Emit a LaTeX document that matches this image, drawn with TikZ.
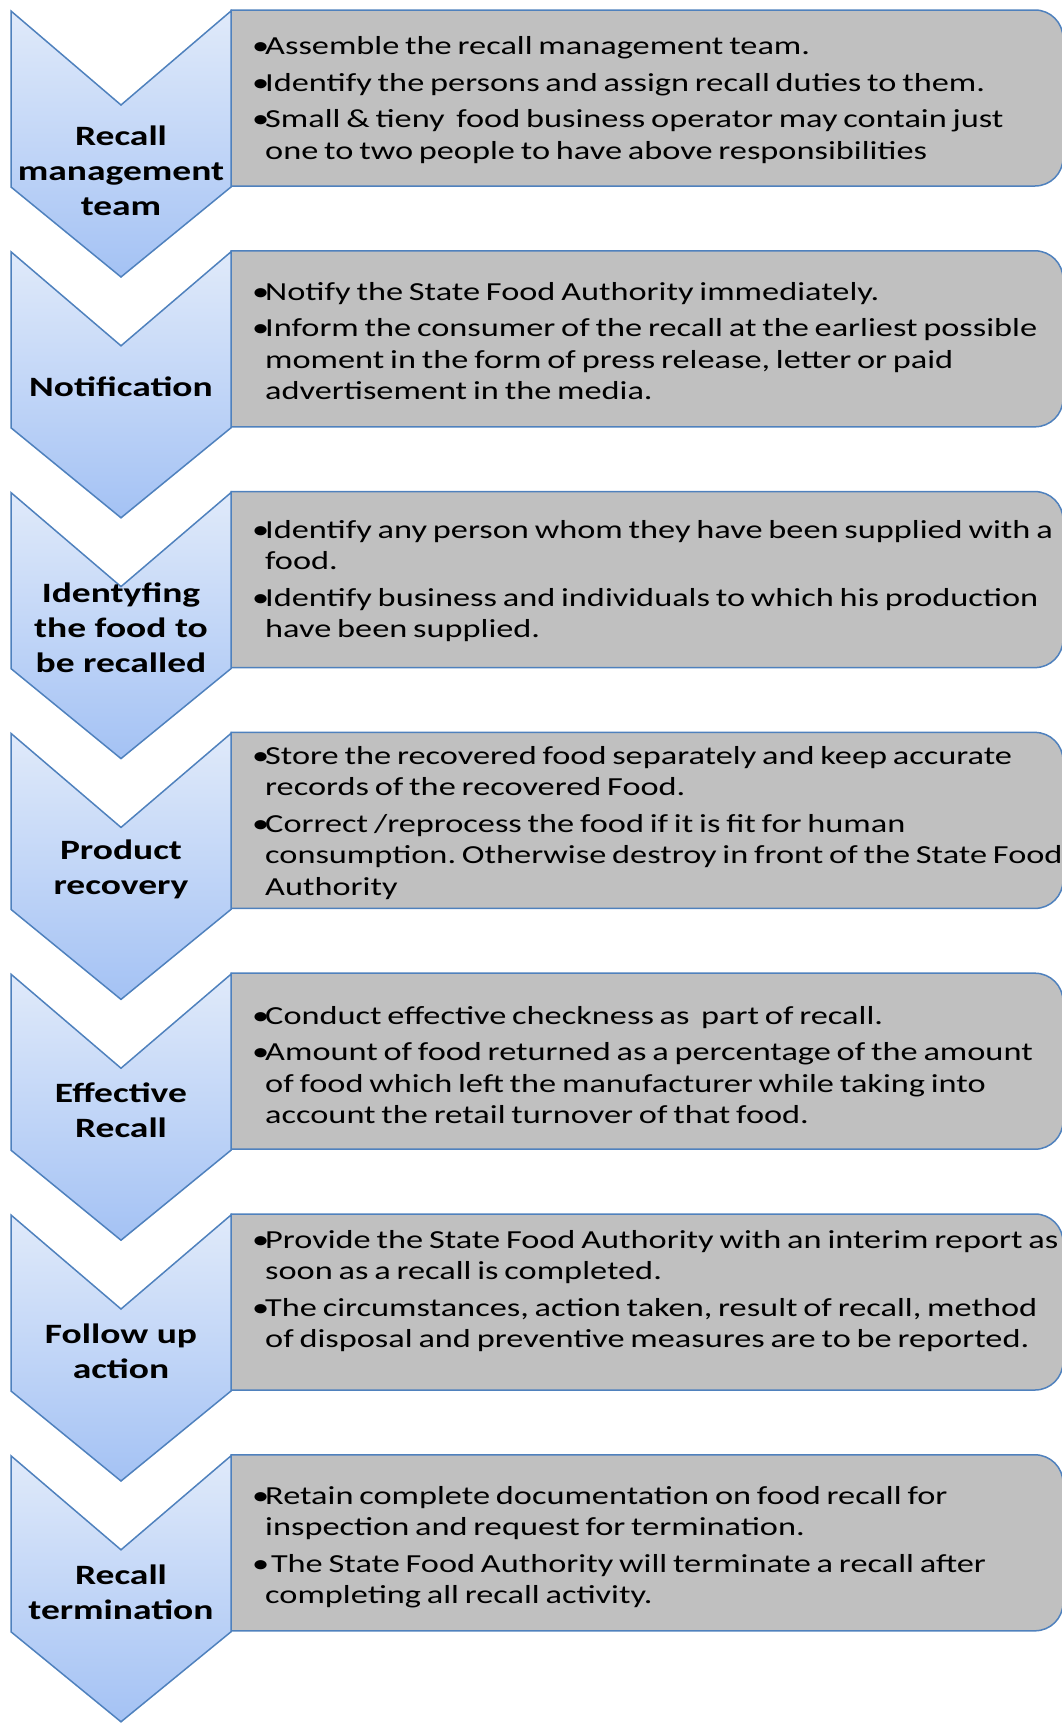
\documentclass[tikz,border=0pt]{standalone}
\usepackage{fontspec}
\setmainfont{Carlito}
\newfontfamily\bodyfont[FakeStretch=1.32, WordSpace=0.75]{Carlito}
\newfontfamily\stepfont[FakeStretch=1.34]{Carlito}
\usepackage{tikz}
\frenchspacing
\definecolor{chevline}{RGB}{79,129,189}
\definecolor{chevtop}{RGB}{224,234,250}
\definecolor{chevbot}{RGB}{164,194,244}
\definecolor{boxgray}{RGB}{192,192,192}
\tikzstyle{chevron} = [draw=chevline, line width=1.5pt, line join=miter, top color=chevtop, bottom color=chevbot]
\tikzstyle{infobox} = [draw=chevline, line width=1.5pt, fill=boxgray]
\tikzstyle{steplabel} = [align=center, inner sep=0pt, font=\stepfont\bfseries\fontsize{28}{35}\selectfont]
\tikzstyle{bullets} = [anchor=west, align=left, inner sep=0pt, font=\bodyfont\fontsize{26}{31.5}\selectfont]
\newcommand{\bul}{\makebox[13pt][l]{\textbullet}}
\newcommand{\cont}{\hspace*{13pt}}

\begin{document}
\begin{tikzpicture}[x=1pt, y=-1pt]
    \useasboundingbox (0,0) rectangle (1061,1724);
    % boxes and chevrons
    \foreach \i in {0,...,6} {
        \pgfmathsetmacro{\yy}{11+240.8*\i}
        \draw[infobox] (231,\yy-1) -- (1035,\yy-1) arc (270:360:28) -- (1063,\yy+147) arc (0:90:28) -- (231,\yy+175) -- cycle;
        \draw[chevron] (11,\yy) -- (121,\yy+94) -- (231,\yy) -- (231,\yy+176) -- (121,\yy+266) -- (11,\yy+176) -- cycle;
    }
    \node (lbl1) [steplabel] at (121,171) {Recall\\management\\team};
    \node (lbl2) [steplabel] at (121,387) {Notification};
    \node (lbl3) [steplabel] at (121,628) {Identyfing\\the food to\\be recalled};
    \node (lbl4) [steplabel] at (121,869) {Product\\recovery};
    \node (lbl5) [steplabel] at (121,1110) {Effective\\Recall};
    \node (lbl6) [steplabel] at (121,1351) {Follow up\\action};
    \node (lbl7) [steplabel] at (121,1592) {Recall\\termination};

    \node (txt1) [bullets] at (252,100) {\bul Assemble the recall management team.\\[5pt]
        \bul Identify the persons and assign recall duties to them.\\[5pt]
        \bul Small \& tieny\ \ food business operator may contain just\\
        \cont one to two people to have above responsibilities};
    \node (txt2) [bullets] at (252,341) {\bul Notify the State Food Authority immediately.\\[5pt]
        \bul Inform the consumer of the recall at the earliest possible\\
        \cont moment in the form of press release, letter or paid\\
        \cont advertisement in the media.};
    \node (txt3) [bullets] at (252,581) {\bul Identify any person whom they have been supplied with a\\
        \cont food.\\[5pt]
        \bul Identify business and individuals to which his production\\
        \cont have been supplied.};
    \node (txt4) [bullets] at (252,823) {\bul Store the recovered food separately and keep accurate\\
        \cont records of the recovered Food.\\[5pt]
        \bul Correct /reprocess the food if it is fit for human\\
        \cont consumption. Otherwise destroy in front of the State Food\\
        \cont Authority};
    \node (txt5) [bullets] at (252,1065) {\bul Conduct effective checkness as\ \ part of recall.\\[5pt]
        \bul Amount of food returned as a percentage of the amount\\
        \cont of food which left the manufacturer while taking into\\
        \cont account the retail turnover of that food.};
    \node (txt6) [bullets] at (252,1291) {\bul Provide the State Food Authority with an interim report as\\
        \cont soon as a recall is completed.\\[5pt]
        \bul The circumstances, action taken, result of recall, method\\
        \cont of disposal and preventive measures are to be reported.};
    \node (txt7) [bullets] at (252,1547) {\bul Retain complete documentation on food recall for\\
        \cont inspection and request for termination.\\[5pt]
        \bul\ The State Food Authority will terminate a recall after\\
        \cont completing all recall activity.};
\end{tikzpicture}
\end{document}
